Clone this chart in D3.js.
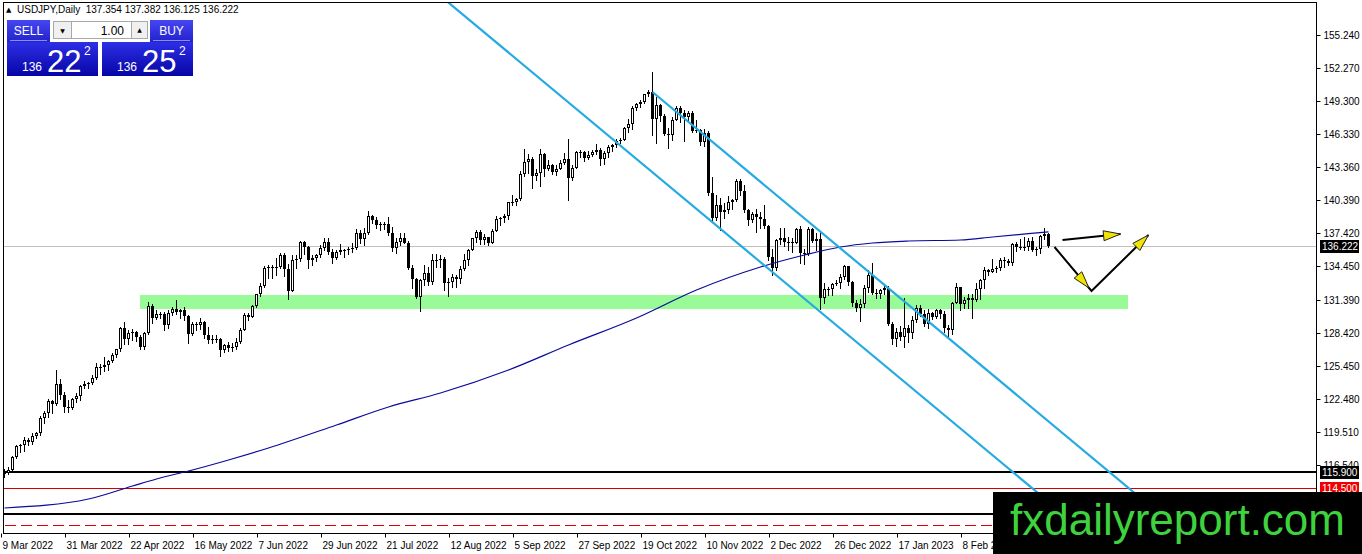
<!DOCTYPE html>
<html>
<head>
<meta charset="utf-8">
<script src="https://cdn.jsdelivr.net/npm/d3@7"></script>
<style>
  html, body { margin: 0; padding: 0; background: #fff; overflow: hidden; }
  svg { display: block; font-family: "Liberation Sans", Arial, sans-serif; }
</style>
</head>
<body>
<svg id="chart" width="1362" height="554"></svg>
<script>
// daily USDJPY candles, one array per month: [open, high, low, close]
const mar22 = [
  [115.72,116.20,115.50,115.86],[115.86,116.35,115.75,116.12],[116.12,117.35,116.00,117.30],
  [117.30,118.35,117.20,118.22],[118.22,118.45,117.70,118.30],[118.30,119.10,117.80,118.75],
  [118.75,119.00,118.30,118.60],[118.60,119.40,118.45,119.18],[119.18,119.55,118.95,119.44],
  [119.44,120.95,119.20,120.80],[120.80,121.40,120.35,121.18],[121.18,122.45,120.90,122.30],
  [122.30,122.40,121.20,122.05],[122.05,125.10,121.95,123.85],[123.85,124.30,122.50,122.85],
  [122.85,123.15,121.30,121.75],[121.75,122.40,121.30,121.68]
];
const apr22 = [
  [121.68,122.60,121.55,122.52],[122.52,123.05,122.25,122.78],[122.78,123.70,122.40,123.62],
  [123.62,124.10,123.45,123.80],[123.80,124.05,123.45,123.95],[123.95,124.65,123.85,124.35],
  [124.35,125.75,124.30,125.38],[125.38,125.60,124.75,125.40],[125.40,126.30,125.00,125.58],
  [125.58,126.00,125.08,125.90],[125.90,126.65,125.80,126.40],[126.40,127.00,126.30,126.95],
  [126.95,129.00,126.80,128.90],[128.90,129.40,127.45,127.90],[127.90,128.70,127.40,128.40],
  [128.40,128.80,127.80,128.50],[128.50,128.60,127.70,128.10],[128.10,128.20,126.95,127.20],
  [127.20,128.55,126.95,128.40],[128.40,131.25,128.30,130.85],[130.85,131.00,129.30,129.75]
];
const may22 = [
  [129.75,130.45,129.70,130.15],[130.15,130.35,129.80,130.10],[130.10,130.35,128.65,129.10],
  [129.10,130.50,128.90,130.20],[130.20,130.80,130.00,130.55],[130.55,131.35,130.10,130.30],
  [130.30,130.55,129.75,130.45],[130.45,130.80,129.60,129.95],[129.95,130.00,127.50,128.30],
  [128.30,129.45,128.20,129.20],[129.20,129.40,128.65,129.15],[129.15,129.75,128.80,129.40],
  [129.40,129.50,128.00,128.25],[128.25,128.95,127.50,127.80],[127.80,128.20,127.50,127.85],
  [127.85,128.20,127.60,127.90],[127.90,128.00,126.36,126.85],[126.85,127.45,126.70,127.30],
  [127.30,127.60,126.80,127.10],[127.10,127.50,126.80,127.12],[127.12,127.95,127.00,127.60],
  [127.60,128.90,127.50,128.70]
];
const jun22 = [
  [128.70,130.20,128.65,130.05],[130.05,130.25,129.55,129.85],[129.85,130.95,129.85,130.88],
  [130.88,131.95,130.75,131.90],[131.90,132.95,131.75,132.62],[132.62,134.45,132.55,134.25],
  [134.25,134.55,133.40,134.38],[134.38,134.55,133.40,134.40],[134.40,135.20,133.60,134.40],
  [134.40,135.60,134.30,135.45],[135.45,135.60,133.55,134.20],[134.20,134.65,131.50,132.20],
  [132.20,135.45,132.20,135.00],[135.00,135.40,134.30,135.05],[135.05,136.70,134.90,136.65],
  [136.65,136.70,135.50,136.20],[136.20,136.25,134.30,134.95],[134.95,135.40,134.50,135.20],
  [135.20,135.55,134.90,135.45],[135.45,136.35,135.30,136.10],[136.10,137.00,135.90,136.60],
  [136.60,137.00,135.50,135.75]
];
const jul22 = [
  [135.75,135.95,134.75,135.20],[135.20,135.90,135.05,135.70],[135.70,136.40,135.50,135.85],
  [135.85,136.00,135.30,135.90],[135.90,136.20,135.50,136.00],[136.00,136.55,135.70,136.10],
  [136.10,137.75,135.95,137.40],[137.40,137.70,136.50,136.85],[136.85,137.85,136.35,137.40],
  [137.40,139.38,137.30,138.95],[138.95,139.05,138.35,138.55],[138.55,138.85,137.85,138.15],
  [138.15,138.40,137.70,138.20],[138.20,138.40,137.80,138.20],[138.20,138.85,137.25,137.40],
  [137.40,137.95,135.80,136.10],[136.10,136.95,135.60,136.65],[136.65,137.45,136.30,136.95],
  [136.95,137.45,136.55,136.55],[136.55,136.70,134.20,134.25],[134.25,134.55,132.50,133.25]
];
const aug22 = [
  [133.25,133.35,131.60,131.62],[131.62,133.30,130.40,133.15],[133.15,134.55,132.75,133.85],
  [133.85,134.35,132.75,133.00],[133.00,135.50,132.85,135.00],[135.00,135.55,134.35,134.95],
  [134.95,135.40,134.40,135.10],[135.10,135.25,132.30,132.90],[132.90,133.40,131.75,133.00],
  [133.00,133.75,132.60,133.45],[133.45,133.65,132.55,133.30],[133.30,134.45,132.90,134.20],
  [134.20,135.50,134.05,135.00],[135.00,136.00,134.55,135.90],[135.90,137.00,135.85,136.95],
  [136.95,137.70,136.60,137.50],[137.50,137.65,136.45,136.75],[136.75,137.30,136.45,137.10],
  [137.10,137.10,136.30,136.55],[136.55,137.75,136.50,137.60],[137.60,138.95,137.60,138.70],
  [138.70,138.90,138.15,138.80],[138.80,139.10,138.40,138.95]
];
const sep22 = [
  [138.95,140.25,138.70,140.20],[140.20,140.80,139.90,140.20],[140.20,140.60,139.95,140.50],
  [140.50,143.00,140.40,142.75],[142.75,144.99,142.55,143.80],[143.80,144.55,142.80,144.10],
  [144.10,144.25,141.50,142.55],[142.55,143.20,142.20,142.85],[142.85,144.95,141.65,144.55],
  [144.55,144.60,142.55,143.20],[143.20,143.95,143.10,143.50],[143.50,143.65,142.70,142.90],
  [142.90,143.55,142.65,143.20],[143.20,144.00,143.20,143.75],[143.75,144.65,143.60,144.05],
  [144.05,145.90,140.35,142.35],[142.35,143.55,142.20,143.30],[143.30,144.80,143.25,144.70],
  [144.70,144.90,144.30,144.75],[144.75,144.80,143.90,144.15],[144.15,144.80,144.10,144.45],
  [144.45,144.85,144.35,144.70]
];
const oct22 = [
  [144.70,145.40,144.50,144.85],[144.85,145.05,143.55,144.10],[144.10,144.80,143.65,144.60],
  [144.60,145.30,144.30,145.15],[145.15,145.45,144.80,145.30],[145.30,145.90,145.15,145.70],
  [145.70,146.00,145.50,145.80],[145.80,146.95,145.75,146.90],[146.90,147.65,146.55,147.20],
  [147.20,148.85,146.75,148.70],[148.70,149.10,148.45,149.00],[149.00,149.35,148.80,149.25],
  [149.25,149.95,149.15,149.90],[149.90,150.30,149.75,150.15],[150.15,151.94,146.23,147.65],
  [147.65,149.70,145.55,148.95],[148.95,149.00,147.50,147.95],[147.95,148.10,146.20,146.35],
  [146.35,146.90,145.10,146.25],[146.25,147.90,145.80,147.60],[147.60,148.85,147.55,148.70]
];
const nov22 = [
  [148.70,148.85,147.40,148.20],[148.20,148.45,145.70,147.85],[147.85,148.40,147.50,148.25],
  [148.25,148.40,146.55,146.60],[146.60,147.55,146.55,146.65],[146.65,146.75,145.30,145.65],
  [145.65,146.80,145.25,146.40],[146.40,146.60,140.80,141.00],[141.00,142.50,138.45,138.80],
  [138.80,140.80,138.55,139.90],[139.90,140.60,137.65,139.30],[139.30,140.15,138.75,139.50],
  [139.50,140.75,139.20,140.20],[140.20,140.45,139.60,140.40],[140.40,142.25,140.30,142.10],
  [142.10,142.25,140.85,141.20],[141.20,141.70,139.30,139.50],[139.50,139.60,138.10,138.60],
  [138.60,139.30,138.45,139.15],[139.15,139.60,137.50,138.90],[138.90,139.35,137.85,138.70],
  [138.70,139.90,137.85,138.05]
];
const dec22 = [
  [138.05,138.15,135.00,135.30],[135.30,135.95,133.62,134.30],[134.30,136.90,134.10,136.75],
  [136.75,137.85,136.40,137.00],[137.00,137.85,136.25,136.60],[136.60,137.10,135.90,136.60],
  [136.60,137.00,135.70,136.55],[136.55,137.90,136.50,137.75],[137.75,138.05,134.70,135.60],
  [135.60,135.95,134.60,135.50],[135.50,138.00,135.40,137.75],[137.75,137.90,136.60,136.70],
  [136.70,137.40,135.90,136.90],[136.90,137.45,130.60,131.60],[131.60,132.90,131.15,132.40],
  [132.40,132.60,131.85,132.35],[132.35,132.90,131.85,132.85],[132.85,133.20,132.70,132.90],
  [132.90,133.70,132.50,133.50],[133.50,134.55,133.30,134.45],[134.45,134.45,132.75,133.05],
  [133.05,133.10,130.85,131.15]
];
const jan23 = [
  [131.15,131.40,130.40,130.70],[130.70,131.45,129.50,131.00],[131.00,132.70,130.75,132.45],
  [132.45,134.05,132.10,133.60],[133.60,134.75,131.95,132.05],[132.05,132.35,131.55,131.90],
  [131.90,132.40,131.55,132.30],[132.30,132.85,131.95,132.45],[132.45,132.65,129.10,129.20],
  [129.20,129.40,127.45,127.90],[127.90,128.85,127.25,128.50],[128.50,129.05,127.75,128.10],
  [128.10,131.58,127.20,128.90],[128.90,129.15,127.60,128.40],[128.40,129.95,128.00,129.60],
  [129.60,130.95,129.40,130.70],[130.70,130.95,129.95,130.15],[130.15,130.50,129.05,129.25],
  [129.25,130.60,128.90,130.25],[130.25,130.35,129.70,129.85],[129.85,130.55,129.75,130.45],
  [130.45,130.60,129.80,130.10]
];
const feb23 = [
  [130.10,130.40,128.55,128.90],[128.90,129.15,128.10,128.65],[128.65,131.20,128.35,131.15],
  [131.15,132.90,131.10,132.60],[132.60,132.60,130.50,131.05],[131.05,131.65,130.70,131.40],
  [131.40,131.90,130.65,131.55],[131.55,131.95,129.80,131.40],[131.40,132.90,131.30,132.40],
  [132.40,133.30,131.50,133.15],[133.15,134.35,132.50,134.10],[134.10,134.20,133.60,133.90],
  [133.90,135.10,133.90,134.20],[134.20,134.45,133.95,134.25],[134.25,135.20,134.10,134.95],
  [134.95,135.25,134.40,134.90],[134.90,135.10,134.50,134.70],[134.70,136.50,134.50,136.45],
  [136.45,136.60,135.80,136.20],[136.20,136.85,136.00,136.20]
];
const mar23 = [
  [136.20,137.10,135.90,136.15],[136.15,137.00,135.90,136.70],[136.70,137.10,135.80,135.85],
  [135.85,136.20,135.40,135.95],[135.95,137.25,135.60,137.15],[137.15,137.91,136.90,137.35],
  [137.354,137.382,136.125,136.222]
];

// moving average at a few bars
const maBars   = [0, 21, 32, 38, 47, 56, 66, 83, 96, 109, 126, 141, 158, 173, 189, 200, 209, 217, 226, 239, 247, 261];
const maValues = [112.67, 113.48, 114.65, 115.28, 116.09, 116.99, 118.07, 120.14, 121.76, 123.02, 125.09,
                  127.34, 129.77, 132.29, 134.36, 135.44, 136.16, 136.52, 136.70, 136.79, 137.06, 137.53];

const priceTicks = [155.240, 152.270, 149.300, 146.330, 143.360, 140.390, 137.420, 134.450,
                    131.390, 128.420, 125.450, 122.480, 119.510, 116.540];
const dateLabels = ['9 Mar 2022', '31 Mar 2022', '22 Apr 2022', '16 May 2022', '7 Jun 2022', '29 Jun 2022',
                    '21 Jul 2022', '12 Aug 2022', '5 Sep 2022', '27 Sep 2022', '19 Oct 2022', '10 Nov 2022',
                    '2 Dec 2022', '26 Dec 2022', '17 Jan 2023', '8 Feb 2023'];
const dateBars = dateLabels.map((d, i) => i * 16);

// drawn objects (bar index / price)
const zoneBars = [33.75, 280.75];
const zonePrices = [131.84, 130.58];
const channelTop = [[162, 150.11], [282.25, 114.10]];
const channelWidth = 7.23;
const blackLevels = [115.90, 112.13];
const redLevel = 114.50;
const redDashLevel = 111.14;
const bid = 136.222;
const arrowA = [[264.5, 136.79], [279, 137.33]];
const arrowB = [[262.5, 136.16], [271.75, 132.20], [286, 137.24]];

const symbol = 'USDJPY,Daily';
const sellQuote = ['136', '22', '2'];
const buyQuote = ['136', '25', '2'];
const lotSize = '1.00';

const candles = [].concat(mar22, apr22, may22, jun22, jul22, aug22, sep22, oct22, nov22, dec22, jan23, feb23, mar23)
  .map((d, i) => ({ i, o: d[0], h: d[1], l: d[2], c: d[3] }));

const svg = d3.select('#chart');
const frame = { left: 3, right: 1316, top: 2, bottom: 533 };

const x = d3.scaleLinear().domain([0, 1]).range([4.5, 8.5]);
const y = d3.scaleLinear().domain([155.24, 116.54]).range([35, 465]);

svg.append('defs').append('clipPath').attr('id', 'plotclip')
  .append('rect')
  .attr('x', frame.left).attr('y', frame.top)
  .attr('width', frame.right - frame.left).attr('height', frame.bottom - frame.top);

const plot = svg.append('g').attr('clip-path', 'url(#plotclip)');

// support zone
plot.append('rect')
  .attr('x', Math.round(x(zoneBars[0]))).attr('y', Math.round(y(zonePrices[0])))
  .attr('width', Math.round(x(zoneBars[1]) - x(zoneBars[0])))
  .attr('height', Math.round(y(zonePrices[1]) - y(zonePrices[0])))
  .attr('fill', '#98fb98');

// bid line
plot.append('line')
  .attr('x1', frame.left).attr('x2', frame.right)
  .attr('y1', Math.round(y(bid)) + 0.5).attr('y2', Math.round(y(bid)) + 0.5)
  .attr('stroke', '#c0c0c0');

// horizontal levels
const lv = plot.append('g').attr('shape-rendering', 'crispEdges');
lv.selectAll('line.blk').data(blackLevels).join('line')
  .attr('x1', frame.left).attr('x2', frame.right)
  .attr('y1', d => Math.round(y(d))).attr('y2', d => Math.round(y(d)))
  .attr('stroke', '#000').attr('stroke-width', 2);
lv.append('line')
  .attr('x1', frame.left).attr('x2', frame.right)
  .attr('y1', Math.round(y(redLevel)) + 0.5).attr('y2', Math.round(y(redLevel)) + 0.5)
  .attr('stroke', '#d40000');
lv.append('line')
  .attr('x1', frame.left + 2).attr('x2', frame.right)
  .attr('y1', Math.round(y(redDashLevel)) + 0.5).attr('y2', Math.round(y(redDashLevel)) + 0.5)
  .attr('stroke', '#e00000').attr('stroke-dasharray', '11,5');

// candles
const cg = plot.append('g').attr('shape-rendering', 'crispEdges');
cg.selectAll('line.wick').data(candles).join('line')
  .attr('x1', d => Math.floor(x(d.i)) + 0.5).attr('x2', d => Math.floor(x(d.i)) + 0.5)
  .attr('y1', d => Math.round(y(d.h))).attr('y2', d => Math.round(y(d.l)) + 1)
  .attr('stroke', '#000');
cg.selectAll('rect.body').data(candles).join('rect')
  .each(function (d) {
    const cx = Math.floor(x(d.i)) + 0.5;
    const yo = Math.round(y(d.o)), yc = Math.round(y(d.c));
    const r = d3.select(this);
    if (d.c > d.o && yo - yc >= 2) {
      r.attr('x', cx - 1).attr('y', yc + 0.5).attr('width', 2).attr('height', yo - yc - 1)
        .attr('fill', '#fff').attr('stroke', '#000');
    } else {
      const top = Math.min(yo, yc);
      r.attr('x', cx - 1.5).attr('y', top).attr('width', 3).attr('height', Math.max(1, Math.abs(yo - yc)))
        .attr('fill', '#000');
    }
  });

// moving average
const maPts = maBars.map((b, i) => [b, maValues[i]]);
plot.append('path')
  .attr('d', d3.line().x(d => x(d[0])).y(d => y(d[1])).curve(d3.curveMonotoneX)(maPts))
  .attr('fill', 'none').attr('stroke', '#0a0a9c').attr('stroke-width', 1.2);

// descending channel
const slope = (channelTop[1][1] - channelTop[0][1]) / (channelTop[1][0] - channelTop[0][0]);
const chAt = (b, off) => channelTop[0][1] - off + slope * (b - channelTop[0][0]);
const chLines = [
  [[channelTop[0][0], chAt(channelTop[0][0], 0)], [320, chAt(320, 0)]],
  [[90, chAt(90, channelWidth)], [320, chAt(320, channelWidth)]]
];
plot.selectAll('line.ch').data(chLines).join('line')
  .attr('x1', d => x(d[0][0])).attr('y1', d => y(d[0][1]))
  .attr('x2', d => x(d[1][0])).attr('y2', d => y(d[1][1]))
  .attr('stroke', '#25aae3').attr('stroke-width', 2.2);

// arrows
function arrow(pts, headsAt) {
  const p = pts.map(d => [x(d[0]), y(d[1])]);
  plot.append('polyline').attr('points', p.map(d => d.join(',')).join(' '))
    .attr('fill', 'none').attr('stroke', '#000').attr('stroke-width', 2).attr('stroke-linejoin', 'miter');
  headsAt.forEach(k => {
    const a = p[k - 1], b = p[k];
    const ang = Math.atan2(b[1] - a[1], b[0] - a[0]);
    const back = k < p.length - 1 ? 4 : 0;
    const tip = [b[0] - Math.cos(ang) * back, b[1] - Math.sin(ang) * back];
    const L = 17, hw = 5;
    const bx = tip[0] - Math.cos(ang) * L, by = tip[1] - Math.sin(ang) * L;
    const tri = [tip,
      [bx - Math.sin(ang) * hw, by + Math.cos(ang) * hw],
      [bx + Math.sin(ang) * hw, by - Math.cos(ang) * hw]];
    plot.append('polygon').attr('points', tri.map(d => d.join(',')).join(' '))
      .attr('fill', '#f0e400').attr('stroke', '#222').attr('stroke-width', 1);
  });
}
arrow(arrowA, [1]);
arrow(arrowB, [1, 2]);

// frame
svg.append('rect')
  .attr('x', frame.left + 0.5).attr('y', frame.top + 0.5)
  .attr('width', frame.right - frame.left).attr('height', frame.bottom - frame.top)
  .attr('fill', 'none').attr('stroke', '#000');

// price axis
const yAxis = svg.append('g')
  .attr('transform', `translate(${frame.right + 0.5},0)`)
  .call(d3.axisRight(y).tickValues(priceTicks).tickFormat(d3.format('.3f')).tickSize(4).tickPadding(3));
yAxis.select('.domain').remove();
yAxis.selectAll('text').attr('font-size', 10).attr('font-family', '"Liberation Sans", Arial, sans-serif').attr('fill', '#000');
yAxis.selectAll('line').attr('stroke', '#000');

// time axis
const xAxis = svg.append('g')
  .attr('transform', `translate(-3.5,${frame.bottom + 0.5})`)
  .call(d3.axisBottom(x).tickValues(dateBars).tickFormat((d, i) => dateLabels[i]).tickSize(4).tickPadding(2));
xAxis.select('.domain').remove();
xAxis.selectAll('text').attr('font-size', 10).attr('font-family', '"Liberation Sans", Arial, sans-serif')
  .attr('fill', '#000').attr('text-anchor', 'start').attr('x', 1).attr('dy', '0.9em');
xAxis.selectAll('line').attr('stroke', '#000');

// price tags
function tag(price, bg) {
  const yy = Math.round(y(price));
  svg.append('rect').attr('x', frame.right + 4).attr('y', yy - 6).attr('width', 39).attr('height', 13).attr('fill', bg);
  svg.append('text').attr('x', frame.right + 6).attr('y', yy + 4)
    .attr('font-size', 10).attr('fill', '#fff').text(price.toFixed(3));
}
tag(bid, '#000');
tag(blackLevels[0], '#000');
tag(redLevel, '#f00000');

// header
const last = candles[candles.length - 1];
svg.append('text').attr('x', 6).attr('y', 12).attr('font-size', 7).attr('font-family', 'DejaVu Sans').text('\u25B2');
svg.append('text').attr('x', 17).attr('y', 13).attr('font-size', 10)
  .text(`${symbol}  ${[last.o, last.h, last.l, last.c].map(v => v.toFixed(3)).join(' ')}`)
  .style('white-space', 'pre');

// one-click trading panel
const defs = svg.select('defs');
const g1 = defs.append('linearGradient').attr('id', 'btn').attr('x1', 0).attr('x2', 0).attr('y1', 0).attr('y2', 1);
g1.append('stop').attr('offset', '0%').attr('stop-color', '#4545f2');
g1.append('stop').attr('offset', '100%').attr('stop-color', '#2323cc');
const g2 = defs.append('linearGradient').attr('id', 'quote').attr('x1', 0).attr('x2', 0).attr('y1', 0).attr('y2', 1);
g2.append('stop').attr('offset', '0%').attr('stop-color', '#2e2ee6');
g2.append('stop').attr('offset', '100%').attr('stop-color', '#0606a6');

const panel = svg.append('g');
[[7, 'SELL'], [150, 'BUY']].forEach(([bx, label]) => {
  panel.append('rect').attr('x', bx).attr('y', 20).attr('width', 43).attr('height', 22).attr('fill', 'url(#btn)');
  panel.append('line').attr('x1', bx + 3).attr('x2', bx + 40).attr('y1', 40.5).attr('y2', 40.5).attr('stroke', '#8c8cff');
  panel.append('text').attr('x', bx + 21.5).attr('y', 35).attr('text-anchor', 'middle')
    .attr('font-size', 12).attr('fill', '#fff').text(label);
});
panel.append('rect').attr('x', 53.5).attr('y', 21.5).attr('width', 18).attr('height', 17)
  .attr('fill', '#f0f0f0').attr('stroke', '#a8a8a8');
panel.append('rect').attr('x', 71.5).attr('y', 21.5).attr('width', 60).attr('height', 17)
  .attr('fill', '#fff').attr('stroke', '#a8a8a8');
panel.append('rect').attr('x', 131.5).attr('y', 21.5).attr('width', 16).attr('height', 17)
  .attr('fill', '#f0f0f0').attr('stroke', '#a8a8a8');
panel.append('text').attr('x', 62.5).attr('y', 33).attr('text-anchor', 'middle').attr('font-size', 6)
  .attr('font-family', 'DejaVu Sans').text('\u25BC');
panel.append('text').attr('x', 139.5).attr('y', 32).attr('text-anchor', 'middle').attr('font-size', 6)
  .attr('font-family', 'DejaVu Sans').text('\u25B2');
panel.append('text').attr('x', 124).attr('y', 35).attr('text-anchor', 'end').attr('font-size', 12).text(lotSize);

[[7, sellQuote], [102, buyQuote]].forEach(([bx, q]) => {
  panel.append('rect').attr('x', bx).attr('y', 42).attr('width', 91).attr('height', 34).attr('fill', 'url(#quote)');
  panel.append('text').attr('x', bx + 15).attr('y', 71).attr('font-size', 12).attr('fill', '#fff').text(q[0]);
  panel.append('text').attr('x', bx + 40).attr('y', 72).attr('font-size', 31).attr('fill', '#fff').text(q[1]);
  panel.append('text').attr('x', bx + 77).attr('y', 55).attr('font-size', 12).attr('fill', '#fff').text(q[2]);
});

// watermark
svg.append('rect').attr('x', 993).attr('y', 492).attr('width', 369).attr('height', 62).attr('fill', '#000');
svg.append('text').attr('x', 1010).attr('y', 535).attr('font-size', 44).attr('fill', '#3fd23f')
  .attr('textLength', 335).attr('lengthAdjust', 'spacingAndGlyphs').text('fxdailyreport.com');
</script>
</body>
</html>
